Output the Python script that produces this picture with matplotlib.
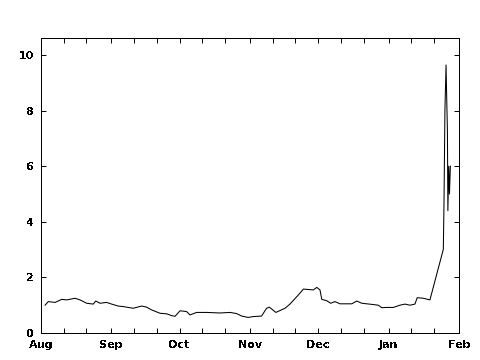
import numpy as np
import pandas as pd
import matplotlib
matplotlib.use("Agg")
import matplotlib.pyplot as plt
import matplotlib.dates as mdates

# days after Aug 1
start = pd.Timestamp("2010-08-01")
days = [1.8, 3.2, 6.2, 9.1, 11.3, 15.0, 17.2, 20.1, 23.0, 24.1, 26.0, 28.9,
        31.1, 34.0, 36.2, 40.6, 44.3, 46.5, 48.7, 52.4, 55.3, 57.7, 59.0,
        61.2, 64.1, 65.6, 68.5, 72.9, 78.8, 83.2, 86.1, 88.3, 91.2, 93.4,
        97.1, 99.3, 100.5, 103.4, 107.4, 109.6, 113.3, 115.5, 119.9, 121.4,
        122.8, 123.6, 125.8, 127.5, 129.4, 131.6, 136.8, 139.0, 141.2, 145.6,
        148.5, 150.0, 152.2, 155.1, 158.0, 160.2, 162.4, 164.6, 165.6, 168.3,
        171.2, 177.1, 177.4, 177.8, 178.3, 178.6, 178.9, 179.1, 179.5, 179.8,
        180.2]
values = [1.00, 1.13, 1.10, 1.21, 1.19, 1.25, 1.19, 1.07, 1.04, 1.15, 1.07, 1.10,
          1.04, 0.97, 0.95, 0.89, 0.97, 0.93, 0.83, 0.71, 0.69, 0.62, 0.60,
          0.80, 0.77, 0.65, 0.74, 0.74, 0.72, 0.74, 0.70, 0.61, 0.56, 0.59,
          0.61, 0.89, 0.93, 0.74, 0.89, 1.04, 1.37, 1.58, 1.55, 1.64,
          1.55, 1.21, 1.16, 1.07, 1.13, 1.05, 1.05, 1.15, 1.07, 1.03,
          1.00, 0.91, 0.92, 0.92, 1.00, 1.04, 1.00, 1.04, 1.27, 1.25,
          1.19, 3.01, 4.70, 8.00, 9.64, 8.40, 7.30, 4.40, 6.00, 5.00,
          6.00]
dates = start + pd.to_timedelta(days, unit="D")

plt.rcParams["text.antialiased"] = False
fig = plt.figure(figsize=(4.8, 3.6), dpi=100)
ax = fig.add_axes([41 / 480, 27 / 360, 418 / 480, 295.5 / 360])
ax.plot(dates, values, color="black", linewidth=0.75)

ax.set_xlim(pd.Timestamp("2010-08-01"), pd.Timestamp("2011-02-01"))
ax.set_ylim(0, 10.63)
ax.set_yticks([0, 2, 4, 6, 8, 10])
ax.xaxis.set_major_locator(mdates.MonthLocator())
ax.xaxis.set_major_formatter(mdates.DateFormatter("%b"))
ax.xaxis.set_minor_locator(mdates.DayLocator(bymonthday=[11, 21]))

for lab in ax.get_xticklabels() + ax.get_yticklabels():
    lab.set_fontweight("bold")
ax.tick_params(which="both", direction="in", top=True, right=True,
               length=3.5, width=0.7, labelsize=8)
ax.tick_params(axis="x", pad=5)
ax.tick_params(axis="y", pad=5)
for s in ax.spines.values():
    s.set_linewidth(0.7)
    s.set_antialiased(False)

fig.savefig("out.png", dpi=100)
